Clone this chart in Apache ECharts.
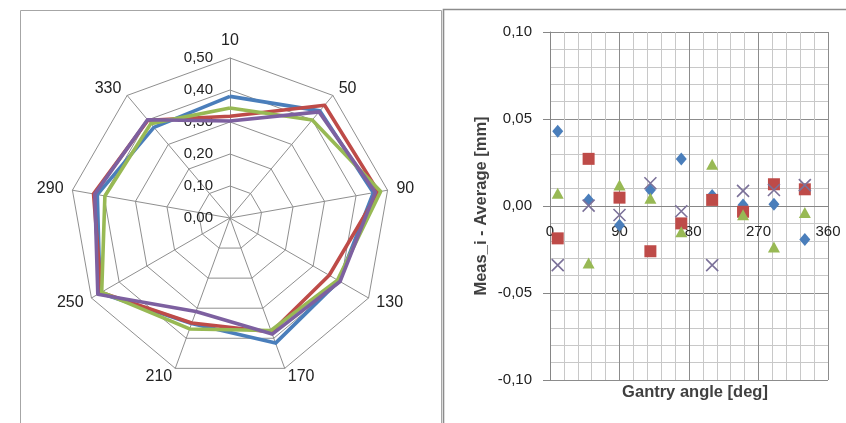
<!DOCTYPE html>
<html>
<head>
<meta charset="utf-8">
<script src="https://cdn.jsdelivr.net/npm/echarts@6/dist/echarts.min.js"></script>
<style>
html,body{margin:0;padding:0;background:#fff;}
#c{width:846px;height:423px;}
</style>
</head>
<body>
<div id="c"></div>
<script>
// Gantry angles (categories)
const angles = [10, 50, 90, 130, 170, 210, 250, 290, 330];
const radarTicks = [0, 0.1, 0.2, 0.3, 0.4, 0.5];

// Radar values (mm) per measurement series
const radarBlue   = [0.380, 0.437, 0.455, 0.393, 0.416, 0.351, 0.469, 0.421, 0.370];
const radarRed    = [0.318, 0.460, 0.471, 0.358, 0.379, 0.349, 0.465, 0.433, 0.399];
const radarGreen  = [0.344, 0.400, 0.478, 0.388, 0.374, 0.369, 0.463, 0.397, 0.385];
const radarPurple = [0.303, 0.433, 0.461, 0.397, 0.386, 0.311, 0.477, 0.429, 0.401];

// Deviation from average (mm)
const devBlue   = [0.0430, 0.0035, -0.0110, 0.0092, 0.0270, 0.0060, 0.0006, 0.0010, -0.0192];
const devRed    = [-0.0186, 0.0271, 0.0048, -0.0260, -0.0100, 0.0035, -0.0033, 0.0125, 0.0096];
const devGreen  = [0.0073, -0.0327, 0.0121, 0.0044, -0.0148, 0.0240, -0.0050, -0.0235, -0.0037];
const devPurple = [-0.0340, 0.0002, -0.0052, 0.0131, -0.0030, -0.0340, 0.0087, 0.0092, 0.0120];

const xTicks = [0, 90, 180, 270, 360];
const yTicks = [-0.10, -0.05, 0.00, 0.05, 0.10];

const colBlue = '#4A7EBB', colRed = '#BE4B48', colGreen = '#98B954', colPurple = '#7D60A0', colX = '#7B7199';
const FONT = 'Liberation Sans';
const comma = v => v.toFixed(2).replace('.', ',');

// ECharts radar runs counter-clockwise; reorder so angles run clockwise
const order = angles.map((a, k) => k === 0 ? 0 : angles.length - k);
const reorder = arr => order.map(i => arr[i]);

const indicators = order.map((i, k) => {
  const o = { name: String(angles[i]), min: radarTicks[0], max: radarTicks[radarTicks.length - 1] };
  if (k === 0) o.axisLabel = { show: true };
  return o;
});

const radarSeries = [
  [radarBlue, colBlue], [radarRed, colRed], [radarGreen, colGreen], [radarPurple, colPurple]
].map(([arr, c]) => ({
  value: reorder(arr),
  symbol: 'none',
  lineStyle: { color: c, width: 3.6 },
  itemStyle: { color: c }
}));

const pair = arr => angles.map((a, i) => [a, arr[i]]);

const GRID = { left: 550, right: 18, top: 32, bottom: 43 };
const H = 423;

const chart = echarts.init(document.getElementById('c'), null, { renderer: 'canvas' });
chart.setOption({
  animation: false,
  backgroundColor: '#fff',
  textStyle: { fontFamily: FONT },
  title: {
    text: 'Gantry angle [deg]',
    left: 690, top: 379, textAlign: 'center',
    textStyle: { color: '#404040', fontSize: 16.5, fontWeight: 'bold', fontFamily: FONT }
  },
  graphic: [
    { type: 'rect', shape: { x: 20.5, y: 10.5, width: 421, height: 460 }, style: { fill: 'none', stroke: '#a6a6a6', lineWidth: 1 }, silent: true },
    { type: 'rect', shape: { x: 443.5, y: 9.5, width: 460, height: 460 }, style: { fill: 'none', stroke: '#8c8c8c', lineWidth: 1.6 }, silent: true }
  ],
  radar: {
    center: [230, 218],
    radius: 160,
    startAngle: 90,
    shape: 'polygon',
    splitNumber: 5,
    nameGap: 9,
    indicator: indicators,
    axisName: { color: '#222', fontSize: 16, fontFamily: FONT },
    splitLine: { lineStyle: { color: '#8f8f8f', width: 1 } },
    splitArea: { show: false },
    axisLine: { lineStyle: { color: '#8f8f8f', width: 1 } },
    axisTick: { show: false },
    axisLabel: { show: false, color: '#222', fontSize: 15, fontFamily: FONT, margin: 17, formatter: v => comma(v) }
  },
  grid: Object.assign({ containLabel: false }, GRID),
  xAxis: {
    type: 'value', min: xTicks[0], max: xTicks[xTicks.length - 1], interval: xTicks[1] - xTicks[0],
    position: 'bottom', offset: 0,
    axisLine: { show: true, onZero: false, lineStyle: { color: '#868686', width: 1 } },
    axisTick: { show: false },
    axisLabel: { color: '#222', fontSize: 15, fontFamily: FONT, margin: 18 },
    splitLine: { show: true, lineStyle: { color: '#8c8c8c', width: 1 } },
    minorTick: { show: false, splitNumber: 5 },
    minorSplitLine: { show: true, lineStyle: { color: '#c8c8c8', width: 1 } }
  },
  yAxis: {
    type: 'value', min: yTicks[0], max: yTicks[yTicks.length - 1], interval: yTicks[1] - yTicks[0],
    axisLine: { show: true, onZero: false, lineStyle: { color: '#868686', width: 1 } },
    axisTick: { show: true, length: 7, lineStyle: { color: '#868686' } },
    axisLabel: { color: '#222', fontSize: 15, fontFamily: FONT, margin: 18, formatter: v => comma(v) },
    splitLine: { show: true, lineStyle: { color: '#8c8c8c', width: 1 } },
    minorTick: { show: false, splitNumber: 5 },
    minorSplitLine: { show: true, lineStyle: { color: '#c8c8c8', width: 1 } },
    name: 'Meas_i - Average [mm]', nameLocation: 'middle', nameGap: 60, nameRotate: 90,
    nameTextStyle: { color: '#404040', fontSize: 16.5, fontWeight: 'bold', fontFamily: FONT }
  },
  series: [
    { type: 'radar', radarIndex: 0, data: radarSeries, z: 3 },
    { type: 'scatter', data: pair(devBlue), symbol: 'diamond', symbolSize: [11, 13], itemStyle: { color: colBlue, opacity: 1 } },
    { type: 'scatter', data: pair(devRed), symbol: 'rect', symbolSize: 12, itemStyle: { color: colRed, opacity: 1 } },
    { type: 'scatter', data: pair(devGreen), symbol: 'triangle', symbolSize: [12, 11], itemStyle: { color: colGreen, opacity: 1 } },
    { type: 'scatter', data: pair(devPurple), symbol: 'path://M0,0L10,10M10,0L0,10', symbolSize: 12,
      itemStyle: { color: 'transparent', borderColor: colX, borderWidth: 1.6, opacity: 1 } }
  ]
});

// Move the x axis (line + labels) to cross at y = 0, using the library's y scale
const zeroY = chart.convertToPixel({ yAxisIndex: 0 }, 0);
const bottomY = H - GRID.bottom;
chart.setOption({ xAxis: { offset: -(bottomY - zeroY) } });
</script>
</body>
</html>
